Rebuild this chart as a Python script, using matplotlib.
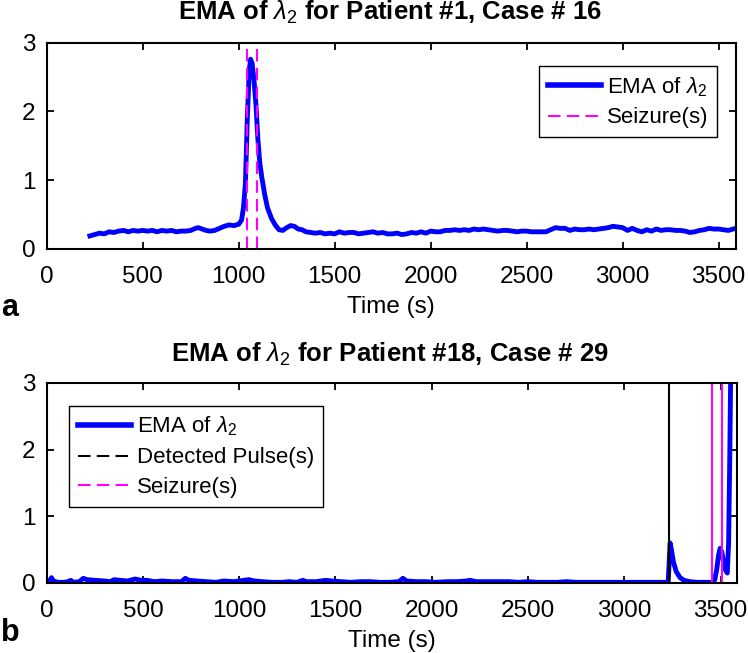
import matplotlib
matplotlib.use("Agg")
import matplotlib.pyplot as plt
from matplotlib.lines import Line2D

plt.rcParams['font.family'] = ['Liberation Sans', 'DejaVu Sans']
plt.rcParams['mathtext.fontset'] = 'custom'
plt.rcParams['mathtext.rm'] = 'Liberation Sans'
plt.rcParams['mathtext.it'] = 'Liberation Sans:italic'

# ---------- data ----------
# panel a: Patient #1, Case # 16
time_a = [225, 250, 275, 300, 325, 350, 375, 400, 425, 450, 475, 500, 525, 550, 575,
          600, 625, 650, 675, 700, 725, 750, 775, 790, 810, 830, 850, 875, 900, 925,
          950, 975, 1000, 1015, 1025, 1035, 1045, 1055, 1062, 1070, 1080, 1090, 1100,
          1110, 1120, 1135, 1150, 1170, 1190, 1210, 1230, 1250, 1270, 1290, 1310, 1330,
          1350, 1375, 1400, 1425, 1450, 1475, 1500, 1525, 1550, 1575, 1600, 1625, 1650,
          1675, 1700, 1725, 1750, 1775, 1800, 1825, 1850, 1875, 1900, 1925, 1950, 1975,
          2000, 2025, 2050, 2075, 2100, 2125, 2150, 2175, 2200, 2225, 2250, 2275, 2300,
          2325, 2350, 2375, 2400, 2425, 2450, 2475, 2500, 2525, 2550, 2575, 2600, 2625,
          2650, 2675, 2700, 2725, 2750, 2775, 2800, 2825, 2850, 2875, 2900, 2925, 2950,
          2975, 3000, 3025, 3050, 3075, 3100, 3125, 3150, 3175, 3200, 3225, 3250, 3275,
          3300, 3325, 3350, 3375, 3400, 3425, 3450, 3475, 3500, 3525, 3550, 3575, 3590]
ema_a = [0.19, 0.21, 0.23, 0.22, 0.25, 0.24, 0.26, 0.27, 0.25, 0.27, 0.26, 0.27, 0.26, 0.27, 0.25,
         0.27, 0.26, 0.27, 0.25, 0.26, 0.26, 0.27, 0.30, 0.31, 0.29, 0.27, 0.26, 0.27, 0.30, 0.33,
         0.35, 0.34, 0.36, 0.42, 0.60, 0.95, 1.90, 2.60, 2.76, 2.70, 2.45, 2.10, 1.60,
         1.25, 1.05, 0.80, 0.60, 0.45, 0.35, 0.28, 0.27, 0.31, 0.34, 0.33, 0.29, 0.28,
         0.25, 0.24, 0.23, 0.24, 0.22, 0.23, 0.22, 0.25, 0.23, 0.24, 0.24, 0.22, 0.23,
         0.24, 0.25, 0.23, 0.24, 0.22, 0.22, 0.23, 0.21, 0.22, 0.24, 0.23, 0.25, 0.23,
         0.26, 0.25, 0.25, 0.27, 0.27, 0.28, 0.27, 0.28, 0.27, 0.29, 0.28, 0.29, 0.28,
         0.27, 0.26, 0.27, 0.27, 0.26, 0.25, 0.26, 0.26, 0.25, 0.25, 0.25, 0.25, 0.28,
         0.31, 0.30, 0.30, 0.27, 0.29, 0.28, 0.28, 0.29, 0.28, 0.29, 0.30, 0.31, 0.33,
         0.32, 0.31, 0.27, 0.30, 0.27, 0.25, 0.28, 0.26, 0.29, 0.27, 0.28, 0.28, 0.27,
         0.27, 0.26, 0.24, 0.25, 0.27, 0.28, 0.30, 0.29, 0.29, 0.28, 0.27, 0.29, 0.30]
seizure_a = [1041, 1096]

# panel b: Patient #18, Case # 29
time_b = [0, 15, 25, 35, 60, 90, 110, 125, 140, 170, 190, 210, 250, 300, 330, 350, 380,
          420, 460, 490, 520, 560, 600, 650, 700, 720, 740, 780, 830, 880, 920, 970, 1000,
          1050, 1080, 1120, 1170, 1220, 1260, 1300, 1330, 1350, 1400, 1450, 1480, 1530,
          1580, 1630, 1680, 1730, 1780, 1830, 1850, 1870, 1920, 1970, 2020, 2080, 2130,
          2180, 2200, 2230, 2290, 2350, 2400, 2450, 2500, 2550, 2600, 2650, 2700, 2750,
          2800, 2850, 2900, 2950, 3000, 3050, 3100, 3150, 3200, 3228, 3233, 3238, 3245,
          3255, 3270, 3290, 3310, 3340, 3380, 3420, 3460, 3470, 3480, 3490, 3498, 3506,
          3515, 3525, 3535, 3542, 3548, 3553]
ema_b = [0.02, 0.03, 0.08, 0.03, 0.01, 0.01, 0.02, 0.04, 0.01, 0.02, 0.07, 0.05, 0.04, 0.03,
         0.02, 0.05, 0.04, 0.03, 0.06, 0.04, 0.04, 0.02, 0.03, 0.02, 0.02, 0.07, 0.04, 0.03,
         0.02, 0.01, 0.03, 0.02, 0.03, 0.05, 0.03, 0.02, 0.01, 0.01, 0.02, 0.01, 0.04, 0.02,
         0.02, 0.04, 0.03, 0.02, 0.01, 0.02, 0.02, 0.01, 0.01, 0.02, 0.07, 0.03, 0.02, 0.02,
         0.01, 0.02, 0.02, 0.03, 0.04, 0.02, 0.02, 0.02, 0.02, 0.01, 0.02, 0.01, 0.01, 0.01,
         0.02, 0.01, 0.01, 0.01, 0.01, 0.01, 0.01, 0.01, 0.01, 0.01, 0.01, 0.01, 0.30, 0.60,
         0.50, 0.32, 0.17, 0.08, 0.04, 0.02, 0.01, 0.01, 0.01, 0.05, 0.20, 0.42, 0.52, 0.47,
         0.33, 0.20, 0.15, 0.60, 1.90, 3.20]
pulse_b = [3233]
seizure_b = [3458, 3510]

BLUE = (0, 0, 1)
MAGENTA = (1, 0, 1)
FS = 17.5      # tick / axis labels
LFS = 16       # legend text
TFS = 18.5     # titles
W, H = 748, 653


def style_axes(ax, xmax, xticks):
    ax.set_xlim(0, xmax)
    ax.set_ylim(0, 3)
    ax.set_xticks(xticks)
    ax.set_yticks([0, 1, 2, 3])
    ax.tick_params(direction='in', top=True, right=True, length=5, width=1.3,
                   labelsize=FS)
    ax.tick_params(axis='x', pad=12)
    ax.tick_params(axis='y', pad=8)
    for s in ax.spines.values():
        s.set_linewidth(1.5)
    ax.set_xlabel('Time (s)', fontsize=FS, labelpad=6)


def add_legend(ax, handles, labels, loc, anchor):
    leg = ax.legend(handles, labels, loc=loc, bbox_to_anchor=anchor, fontsize=LFS,
                    frameon=True, fancybox=False, edgecolor='black', framealpha=1,
                    handlelength=2.4, handletextpad=0.25, borderpad=0.4,
                    labelspacing=0.4, borderaxespad=0)
    leg.get_frame().set_linewidth(1.0)
    return leg


fig = plt.figure(figsize=(W / 100, H / 100), dpi=100)

# ---- panel a ----
ax1 = fig.add_axes([0.0624, 0.6187, 0.9215, 0.3159])
ax1.plot(time_a, ema_a, color=BLUE, lw=3.5)
for s in seizure_a:
    ax1.axvline(s, color=MAGENTA, lw=1.5, ls=(0, (6, 3)))
style_axes(ax1, 3590, range(0, 3501, 500))
fig.text(390 / W, 1 - 20 / H, r'EMA of $\lambda_2$ for Patient #1, Case # 16',
         fontsize=TFS, fontweight='bold', ha='center', va='baseline')
h1 = [Line2D([], [], color=BLUE, lw=4),
      Line2D([], [], color=MAGENTA, lw=1.5, ls=(0, (6, 3)))]
add_legend(ax1, h1, [r'EMA of $\lambda_2$', 'Seizure(s)'], 'upper right', (0.9725, 0.887))

# ---- panel b ----
ax2 = fig.add_axes([0.0624, 0.1072, 0.9225, 0.3063])
ax2.plot(time_b, ema_b, color=BLUE, lw=3.5)
for s in pulse_b:
    ax2.axvline(s, color='black', lw=1.5)
for s in seizure_b:
    ax2.axvline(s, color=MAGENTA, lw=1.5)
style_axes(ax2, 3584, range(0, 3501, 500))
fig.text(390 / W, 1 - 362 / H, r'EMA of $\lambda_2$ for Patient #18, Case # 29',
         fontsize=TFS, fontweight='bold', ha='center', va='baseline')
h2 = [Line2D([], [], color=BLUE, lw=4),
      Line2D([], [], color='black', lw=1.5, ls=(0, (6, 3))),
      Line2D([], [], color=MAGENTA, lw=1.5, ls=(0, (6, 3)))]
add_legend(ax2, h2, [r'EMA of $\lambda_2$', 'Detected Pulse(s)', 'Seizure(s)'],
           'upper left', (0.0323, 0.885))

# panel letters
fig.text(0.002, 1 - 316 / H, 'a', fontsize=22, fontweight='bold', ha='left', va='baseline')
fig.text(0.002, 1 - 641 / H, 'b', fontsize=22, fontweight='bold', ha='left', va='baseline')

fig.savefig('out.png', dpi=100)
